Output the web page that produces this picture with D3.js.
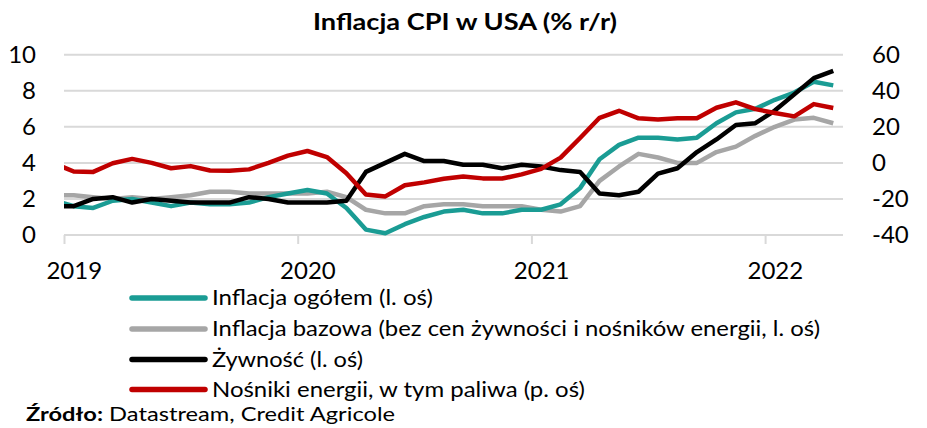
<!DOCTYPE html>
<html><head><meta charset="utf-8">
<script src="https://cdn.jsdelivr.net/npm/d3@7"></script>
<style>
body{margin:0;background:#fff;}
svg{display:block;font-family:Lato, "Open Sans", sans-serif;}
</style></head>
<body><svg id="c" width="927" height="428"></svg>
<script>
// months from Dec 2018 (index -1) to Apr 2022 (index 39)
const startIndex = -1;
const yearLabels = ["2019","2020","2021","2022"];
const yearTickIdx = [0,12,24,36];
const leftTicks = [0,2,4,6,8,10];
const rightTicks = [-40,-20,0,20,40,60];
const cpi = [1.9, 1.6,1.5,1.9,2.0,1.8,1.6,1.8,1.7,1.7,1.8,2.1,2.3, 2.5,2.3,1.5,0.3,0.1,0.6,1.0,1.3,1.4,1.2,1.2,1.4, 1.4,1.7,2.6,4.2,5.0,5.4,5.4,5.3,5.4,6.2,6.8,7.0, 7.5,7.9,8.5,8.3];
const core = [2.2, 2.2,2.1,2.0,2.1,2.0,2.1,2.2,2.4,2.4,2.3,2.3,2.3, 2.3,2.4,2.1,1.4,1.2,1.2,1.6,1.7,1.7,1.6,1.6,1.6, 1.4,1.3,1.6,3.0,3.8,4.5,4.3,4.0,4.0,4.6,4.9,5.5, 6.0,6.4,6.5,6.2];
const food = [1.6, 1.6,2.0,2.1,1.8,2.0,1.9,1.8,1.8,1.8,2.1,2.0,1.8, 1.8,1.8,1.9,3.5,4.0,4.5,4.1,4.1,3.9,3.9,3.7,3.9, 3.8,3.6,3.5,2.3,2.2,2.4,3.4,3.7,4.6,5.3,6.1,6.2, 6.9,7.8,8.7,9.1];
const energy = [-0.3, -4.8,-5.0,-0.2,2.2,0.0,-3.0,-1.8,-4.2,-4.4,-3.6,0.0,4.0, 6.6,3.2,-5.7,-17.5,-18.6,-12.4,-10.8,-8.8,-7.5,-8.6,-8.7,-6.4, -3.3,2.9,13.8,25.0,28.9,24.7,24.1,24.8,24.8,30.6,33.6,29.8, 27.7,25.8,32.6,30.4];
const seriesNames = [
  "Inflacja ogółem (l. oś)",
  "Inflacja bazowa (bez cen żywności i nośników energii, l. oś)",
  "Żywność (l. oś)",
  "Nośniki energii, w tym paliwa (p. oś)"
];
const seriesColors = ["#1a9c94","#a6a6a6","#000000","#c00000"];

const svg = d3.select("#c");
const L = 64, R = 843, T = 54.7, B = 235;
const x = d3.scaleLinear().domain([0,40]).range([L,R]);
const y = d3.scaleLinear().domain([0,10]).range([B,T]);
const y2 = d3.scaleLinear().domain([-40,60]).range([B,T]);

// title
svg.append("text").attr("x",465).attr("y",30).attr("text-anchor","middle")
  .attr("font-size",23).attr("font-weight","bold").attr("fill","#000")
  .attr("textLength",304).attr("lengthAdjust","spacingAndGlyphs")
  .text("Inflacja CPI w USA (% r/r)");

// gridlines
svg.append("g").selectAll("line").data(leftTicks).join("line")
  .attr("x1",L).attr("x2",R).attr("y1",d=>y(d)).attr("y2",d=>y(d))
  .attr("stroke","#d9d9d9").attr("stroke-width",2);

// left axis
const gl = svg.append("g").attr("transform",`translate(${L},0)`)
  .call(d3.axisLeft(y).tickValues(leftTicks).tickFormat(d=>String(d)).tickSize(0).tickPadding(28));
gl.select(".domain").remove();
gl.selectAll("text").attr("font-size",24).attr("fill","#000").attr("font-family","Lato, sans-serif");

// right axis
const gr = svg.append("g").attr("transform",`translate(${R},0)`)
  .call(d3.axisRight(y2).tickValues(rightTicks).tickFormat(d=>String(d)).tickSize(0).tickPadding(29));
gr.select(".domain").remove();
gr.selectAll("text").attr("font-size",24).attr("fill","#000").attr("font-family","Lato, sans-serif");

// x axis: tick marks at year boundaries, labels centred on January slot
const gx = svg.append("g").attr("transform",`translate(0,${B})`)
  .call(d3.axisBottom(x).tickValues(yearTickIdx).tickFormat("").tickSize(9));
gx.select(".domain").remove();
gx.selectAll("line").attr("stroke","#d9d9d9").attr("stroke-width",2);
const gxl = svg.append("g").attr("transform",`translate(0,${B})`)
  .call(d3.axisBottom(x).tickValues(yearTickIdx.map(d=>d+0.5)).tickFormat((d,i)=>yearLabels[i]).tickSize(0).tickPadding(27));
gxl.select(".domain").remove();
gxl.selectAll("text").attr("font-size",24).attr("fill","#000").attr("font-family","Lato, sans-serif");

// clip
svg.append("clipPath").attr("id","clip").append("rect")
  .attr("x",L).attr("y",0).attr("width",R-L).attr("height",428);

const plot = svg.append("g").attr("clip-path","url(#clip)");
const mk = (scale)=>d3.line().x((d,i)=>x(startIndex+i+0.5)).y(d=>scale(d));
const data = [[cpi,y],[core,y],[food,y],[energy,y2]];
const drawOrder = [1,0,2,3];
drawOrder.forEach(k=>{
  plot.append("path").datum(data[k][0]).attr("d",mk(data[k][1]))
    .attr("fill","none").attr("stroke",seriesColors[k]).attr("stroke-width",4.5)
    .attr("stroke-linejoin","round");
});

// legend
const legY = [298,329,359.5,389.5];
const legW = [221,608,151,373];
const lg = svg.append("g");
seriesNames.forEach((n,i)=>{
  lg.append("line").attr("x1",132).attr("x2",205).attr("y1",legY[i]).attr("y2",legY[i])
    .attr("stroke",seriesColors[i]).attr("stroke-width",5.5).attr("stroke-linecap","round");
  lg.append("text").attr("x",212).attr("y",legY[i]).attr("dy","0.36em")
    .attr("font-size",20.5).attr("fill","#000")
    .attr("textLength",legW[i]).attr("lengthAdjust","spacingAndGlyphs").text(n);
});

// source
const src = svg.append("text").attr("x",26).attr("y",421).attr("font-size",19.5).attr("fill","#000")
  .attr("textLength",369).attr("lengthAdjust","spacingAndGlyphs");
src.append("tspan").attr("font-weight","bold").text("Źródło:");
src.append("tspan").text(" Datastream, Credit Agricole");
</script>
</body></html>
